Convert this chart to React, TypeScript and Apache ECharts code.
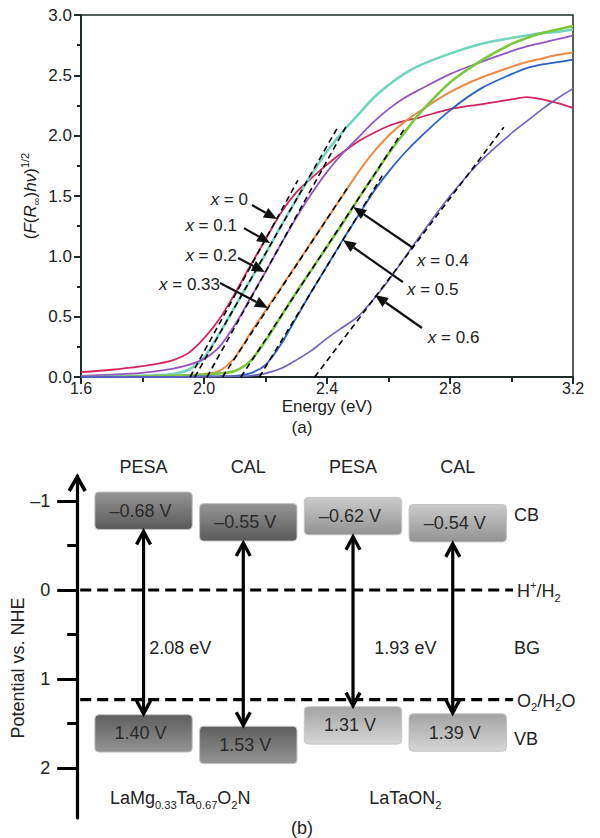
import React, { useEffect, useRef } from 'react';
import * as echarts from 'echarts';

const FONT = '"Liberation Sans", Arial, Helvetica, sans-serif';

// ---------- Panel (a): Kubelka–Munk plots ----------
const energy = [1.6, 1.7, 1.8, 1.85, 1.9, 1.95, 2.0, 2.05, 2.1, 2.15, 2.2, 2.25, 2.3, 2.35, 2.4, 2.45, 2.5, 2.55, 2.6, 2.65, 2.7, 2.8, 2.9, 3.0, 3.05, 3.1, 3.15, 3.2];

const kmX0 = [0.04, 0.06, 0.09, 0.11, 0.14, 0.2, 0.32, 0.48, 0.69, 0.92, 1.14, 1.36, 1.53, 1.65, 1.76, 1.86, 1.95, 2.02, 2.08, 2.12, 2.15, 2.22, 2.26, 2.3, 2.32, 2.3, 2.27, 2.23];
const kmX01 = [0.005, 0.008, 0.012, 0.015, 0.025, 0.06, 0.16, 0.36, 0.58, 0.8, 1.02, 1.25, 1.47, 1.68, 1.87, 2.03, 2.17, 2.31, 2.42, 2.51, 2.58, 2.68, 2.76, 2.81, 2.83, 2.85, 2.86, 2.88];
const kmX02 = [0.01, 0.02, 0.035, 0.05, 0.07, 0.1, 0.15, 0.25, 0.43, 0.65, 0.87, 1.1, 1.32, 1.52, 1.7, 1.85, 1.98, 2.11, 2.22, 2.31, 2.38, 2.51, 2.61, 2.7, 2.74, 2.77, 2.8, 2.83];
const kmX033 = [0, 0, 0.005, 0.005, 0.01, 0.015, 0.025, 0.05, 0.16, 0.36, 0.55, 0.74, 0.93, 1.12, 1.31, 1.5, 1.69, 1.86, 2.0, 2.11, 2.2, 2.36, 2.48, 2.57, 2.61, 2.64, 2.67, 2.69];
const kmX04 = [0, 0, 0.005, 0.008, 0.01, 0.015, 0.02, 0.03, 0.05, 0.13, 0.3, 0.5, 0.7, 0.89, 1.08, 1.27, 1.47, 1.66, 1.85, 2.02, 2.18, 2.44, 2.62, 2.76, 2.81, 2.85, 2.88, 2.91];
const kmX05 = [0, 0, 0, 0, 0, 0.003, 0.005, 0.007, 0.01, 0.03, 0.1, 0.27, 0.49, 0.71, 0.92, 1.13, 1.33, 1.53, 1.7, 1.85, 1.98, 2.21, 2.39, 2.51, 2.56, 2.59, 2.61, 2.63];
const kmX06 = [0, 0, 0, 0, 0, 0, 0.002, 0.004, 0.006, 0.01, 0.03, 0.07, 0.14, 0.22, 0.32, 0.41, 0.5, 0.64, 0.8, 0.98, 1.16, 1.5, 1.79, 2.02, 2.12, 2.22, 2.31, 2.39];

const compositions = ['0', '0.1', '0.2', '0.33', '0.4', '0.5', '0.6'];
const curves = [kmX0, kmX01, kmX02, kmX033, kmX04, kmX05, kmX06];
const curveColors = ['#d4245c', '#72d4bf', '#9457c2', '#f08848', '#7cc83c', '#2f5fc4', '#6a62c2'];
const curveWidths = [1.8, 2.6, 1.8, 2.0, 2.6, 1.8, 1.6];

// tangent (band-gap extrapolation) lines: [E, value] start and end
const tangents = [
  [[1.955, 0], [2.305, 1.63]],
  [[1.97, 0], [2.435, 2.07]],
  [[2.01, 0], [2.465, 2.09]],
  [[2.06, 0], [2.47, 1.58]],
  [[2.12, 0], [2.65, 2.05]],
  [[2.18, 0], [2.58, 1.67]],
  [[2.36, 0], [2.975, 2.07]],
];

// annotation label anchor, arrow start, arrow tip (data coordinates)
const annoText = [[2.143, 1.475], [2.107, 1.259], [2.107, 1.011], [2.052, 0.77], [2.693, 0.969], [2.66, 0.721], [2.728, 0.331]];
const annoFrom = [[2.156, 1.425], [2.13, 1.234], [2.111, 0.986], [2.052, 0.779], [2.68, 1.069], [2.647, 0.787], [2.709, 0.406]];
const annoTo = [[2.237, 1.309], [2.215, 1.11], [2.198, 0.87], [2.208, 0.572], [2.485, 1.408], [2.452, 1.135], [2.556, 0.679]];

// ---------- Panel (b): band positions ----------
const methods = ['PESA', 'CAL', 'PESA', 'CAL'];
const cbPotentials = [-0.68, -0.55, -0.62, -0.54];
const vbPotentials = [1.4, 1.53, 1.31, 1.39];
const redoxPotentials = [0, 1.23];
const redoxLabels = ['H{sup|+}/H{sub|2}', 'O{sub|2}/H{sub|2}O'];
const bandGaps = [2.08, 1.93];
const materials = ['LaMg{sub|0.33}Ta{sub|0.67}O{sub|2}N', 'LaTaON{sub|2}'];
const potentialTicks = [-1, 0, 1, 2];
const potentialMinorTicks = [-0.5, 0.5, 1.5];
const potentialMin = -1.28;
const potentialMax = 2.56;

const boxSpan = 0.42;
const axisOffsetB = 14;

const fmtV = (v: number) => (v < 0 ? '\u2013' + Math.abs(v).toFixed(2) : v.toFixed(2)) + ' V';

const zrRich = (size: number) => ({
  sub: { fontSize: size * 0.62, fontFamily: FONT, fill: '#222', verticalAlign: 'bottom', lineHeight: size * 0.62 },
  sup: { fontSize: size * 0.62, fontFamily: FONT, fill: '#222', verticalAlign: 'top', lineHeight: size * 0.62 },
  i: { fontSize: size, fontFamily: FONT, fill: '#222', fontStyle: 'italic' },
});

function buildOption() {
  const axisColor = '#1e2a2a';
  const series: any[] = [];

  curves.forEach((c, k) => {
    series.push({
      type: 'line',
      name: 'x = ' + compositions[k],
      xAxisIndex: 0,
      yAxisIndex: 0,
      data: energy.map((e, j) => [e, c[j]]),
      showSymbol: false,
      symbol: 'none',
      smooth: 0.3,
      lineStyle: { color: curveColors[k], width: curveWidths[k] },
      z: 2,
    });
  });

  tangents.forEach((t) => {
    series.push({
      type: 'line',
      xAxisIndex: 0,
      yAxisIndex: 0,
      data: t,
      symbol: 'none',
      lineStyle: { color: '#000', width: 1.6, type: [6, 4] },
      z: 3,
    });
  });

  series.push({
    type: 'custom',
    xAxisIndex: 0,
    yAxisIndex: 0,
    z: 5,
    data: annoText.map((d) => [d[0], d[1]]),
    renderItem: (params: any, api: any) => {
      const i = params.dataIndex;
      const t = api.coord(annoText[i]);
      const f = api.coord(annoFrom[i]);
      const p = api.coord(annoTo[i]);
      const dx = p[0] - f[0];
      const dy = p[1] - f[1];
      const L = Math.hypot(dx, dy);
      const ux = dx / L;
      const uy = dy / L;
      const hl = 13;
      const hw = 5.5;
      const bx = p[0] - ux * hl;
      const by = p[1] - uy * hl;
      return {
        type: 'group',
        children: [
          { type: 'line', shape: { x1: f[0], y1: f[1], x2: bx, y2: by }, style: { stroke: '#111', lineWidth: 2.2 } },
          {
            type: 'polygon',
            shape: { points: [[p[0], p[1]], [bx - uy * hw, by + ux * hw], [bx + uy * hw, by - ux * hw]] },
            style: { fill: '#111' },
          },
          {
            type: 'text',
            x: t[0],
            y: t[1],
            style: {
              text: '{i|x} = ' + compositions[i],
              rich: zrRich(17),
              fontSize: 17,
              fontFamily: FONT,
              fill: '#222',
              align: i < 4 ? 'right' : 'left',
              verticalAlign: 'middle',
            },
          },
        ],
      };
    },
  });

  // Panel (b) boxes + arrows
  series.push({
    type: 'custom',
    xAxisIndex: 1,
    yAxisIndex: 1,
    z: 4,
    data: cbPotentials.map((cb, i) => [i, cb, vbPotentials[i]]),
    encode: { x: 0, y: 1 },
    renderItem: (params: any, api: any) => {
      const i = params.dataIndex;
      const cb = api.value(1);
      const vb = api.value(2);
      const bw = api.size([1, 0])[0] * 0.93;
      const cx = api.coord([i, 0])[0];
      const cbTop = api.coord([i, cb - boxSpan])[1];
      const cbBot = api.coord([i, cb])[1];
      const vbTop = api.coord([i, vb])[1];
      const vbBot = api.coord([i, vb + boxSpan])[1];
      const lamg = i < 2;
      const cbCols = lamg ? ['#959595', '#5a5a5a'] : ['#cbcbcb', '#929292'];
      const vbCols = lamg ? ['#5f5f5f', '#939393'] : ['#a3a3a3', '#d6d6d6'];
      const box = (y0: number, y1: number, cols: string[], txt: string) => [
        {
          type: 'rect',
          shape: { x: cx - bw / 2, y: y0, width: bw, height: y1 - y0, r: 4 },
          style: {
            fill: new echarts.graphic.LinearGradient(0, 0, 0, 1, [
              { offset: 0, color: cols[0] },
              { offset: 1, color: cols[1] },
            ]),
            stroke: '#c4c4c4',
            lineWidth: 1,
          },
        },
        {
          type: 'text',
          x: cx - 3,
          y: (y0 + y1) / 2,
          style: { text: txt, fontSize: 18, fontFamily: FONT, fill: '#2b2b2b', align: 'center', verticalAlign: 'middle' },
        },
      ];
      const ax = cx - (i % 2 === 1 ? 5 : 0);
      const a1 = cbBot + 2;
      const a2 = vbTop - 1;
      const aw = 7;
      const ah = 13;
      return {
        type: 'group',
        children: [
          ...box(cbTop, cbBot, cbCols, fmtV(cb)),
          ...box(vbTop, vbBot, vbCols, fmtV(vb)),
          { type: 'line', shape: { x1: ax, y1: a1 + 1, x2: ax, y2: a2 - 1 }, style: { stroke: '#000', lineWidth: 3.2 } },
          {
            type: 'polyline',
            shape: { points: [[ax - aw, a1 + ah], [ax, a1], [ax + aw, a1 + ah]] },
            style: { stroke: '#000', lineWidth: 3.4, fill: 'none' },
          },
          {
            type: 'polyline',
            shape: { points: [[ax - aw, a2 - ah], [ax, a2], [ax + aw, a2 - ah]] },
            style: { stroke: '#000', lineWidth: 3.4, fill: 'none' },
          },
        ],
      };
    },
  });

  // redox levels
  series.push({
    type: 'custom',
    xAxisIndex: 1,
    yAxisIndex: 1,
    z: 3,
    data: redoxPotentials.map((v) => [0, v]),
    encode: { x: 0, y: 1 },
    renderItem: (params: any, api: any) => {
      const i = params.dataIndex;
      const y = api.coord([0, api.value(1)])[1];
      const cs = params.coordSys;
      const x1 = cs.x - 11;
      const x2 = cs.x + cs.width + 3;
      return {
        type: 'group',
        children: [
          { type: 'line', shape: { x1, y1: y, x2, y2: y }, style: { stroke: '#000', lineWidth: 3.2, lineDash: [11, 6] } },
          {
            type: 'text',
            x: x2 + 4,
            y: y + 1,
            style: {
              text: redoxLabels[i],
              rich: zrRich(18),
              fontSize: 18,
              lineHeight: 24,
              fontFamily: FONT,
              fill: '#222',
              align: 'left',
              verticalAlign: 'middle',
            },
          },
        ],
      };
    },
  });

  // band gap and material labels
  const labelFrac = [0.35, 0.5];
  series.push({
    type: 'custom',
    xAxisIndex: 1,
    yAxisIndex: 1,
    z: 3,
    data: bandGaps.map((g, k) => [k * 2, g]),
    encode: { x: 0, y: 1 },
    renderItem: (params: any, api: any) => {
      const k = params.dataIndex;
      const c0 = api.coord([k * 2, 0])[0];
      const c1 = api.coord([k * 2 + 1, 0])[0];
      const x = c0 + (c1 - c0) * labelFrac[k];
      const yGap = api.coord([0, 0.65])[1];
      const yMat = api.coord([0, 2.34])[1];
      return {
        type: 'group',
        children: [
          {
            type: 'text',
            x,
            y: yGap,
            style: { text: bandGaps[k].toFixed(2) + ' eV', fontSize: 18, fontFamily: FONT, fill: '#222', align: 'center', verticalAlign: 'middle' },
          },
          {
            type: 'text',
            x,
            y: yMat,
            style: {
              text: materials[k],
              rich: zrRich(18),
              fontSize: 18,
              lineHeight: 24,
              fontFamily: FONT,
              fill: '#222',
              align: 'center',
              verticalAlign: 'middle',
            },
          },
        ],
      };
    },
  });

  // axis arrow head for panel (b)
  series.push({
    type: 'custom',
    xAxisIndex: 1,
    yAxisIndex: 1,
    z: 6,
    data: [[0, potentialMin]],
    encode: { x: 0, y: 1 },
    renderItem: (params: any, api: any) => {
      const y = api.coord([0, api.value(1)])[1];
      const x = params.coordSys.x - axisOffsetB;
      return {
        type: 'polyline',
        shape: { points: [[x - 8, y + 15], [x, y + 1], [x + 8, y + 15]] },
        style: { stroke: '#000', lineWidth: 3.6, fill: 'none' },
      };
    },
  });

  return {
    animation: false,
    backgroundColor: '#ffffff',
    textStyle: { fontFamily: FONT },
    grid: [
      { left: 81, right: 27, top: 15, bottom: 461, show: true, borderColor: axisColor, borderWidth: 1.5, backgroundColor: 'rgba(0,0,0,0)' },
      { left: 91.2, right: 89.9, top: 476, bottom: 20 },
    ],
    xAxis: [
      {
        gridIndex: 0,
        type: 'value',
        min: 1.6,
        max: 3.2,
        interval: 0.4,
        axisLine: { show: true, onZero: false, lineStyle: { color: axisColor, width: 2 } },
        axisTick: { show: true, inside: false, length: 7, lineStyle: { color: axisColor, width: 2 } },
        minorTick: { show: true, splitNumber: 2, length: 5, lineStyle: { color: axisColor, width: 2 } },
        splitLine: { show: false },
        minorSplitLine: { show: false },
        axisLabel: { fontSize: 16, color: '#222', margin: 3, lineHeight: 16, fontFamily: FONT, formatter: (v: number) => v.toFixed(1) },
        name: 'Energy (eV)',
        nameLocation: 'middle',
        nameGap: 21,
        nameMoveOverlap: false,
        nameTextStyle: { fontSize: 17, color: '#222', fontFamily: FONT, lineHeight: 17 },
      },
      {
        gridIndex: 1,
        type: 'category',
        data: methods,
        position: 'top',
        boundaryGap: true,
        axisLine: { show: false },
        axisTick: { show: false },
        splitLine: { show: false },
        axisLabel: { fontSize: 18, color: '#222', margin: 0, fontFamily: FONT },
      },
    ],
    yAxis: [
      {
        gridIndex: 0,
        type: 'value',
        min: 0,
        max: 3,
        interval: 0.5,
        axisLine: { show: true, onZero: false, lineStyle: { color: axisColor, width: 2 } },
        axisTick: { show: true, inside: false, length: 7, lineStyle: { color: axisColor, width: 2 } },
        minorTick: { show: true, splitNumber: 2, length: 4, lineStyle: { color: axisColor, width: 2 } },
        splitLine: { show: false },
        minorSplitLine: { show: false },
        axisLabel: { fontSize: 17, color: '#222', margin: 9, fontFamily: FONT, formatter: (v: number) => v.toFixed(1) },
        name: '({i|F}({i|R}{sub|\u221e}){i|h\u03bd}){sup|1/2}',
        nameLocation: 'middle',
        nameRotate: 90,
        nameGap: 40,
        nameMoveOverlap: false,
        nameTextStyle: {
          fontSize: 17,
          color: '#222',
          fontFamily: FONT,
          lineHeight: 22,
          rich: {
            i: { fontSize: 17, fontStyle: 'italic', color: '#222', fontFamily: FONT },
            sub: { fontSize: 11, color: '#222', fontFamily: FONT, verticalAlign: 'bottom', lineHeight: 11 },
            sup: { fontSize: 11, color: '#222', fontFamily: FONT, verticalAlign: 'top', lineHeight: 11 },
          },
        },
      },
      {
        gridIndex: 1,
        type: 'value',
        position: 'left',
        inverse: true,
        min: potentialMin,
        max: potentialMax,
        offset: axisOffsetB,
        axisLine: { show: true, onZero: false, lineStyle: { color: '#000', width: 3.2 } },
        axisTick: { show: true, inside: false, length: 20, customValues: potentialTicks, lineStyle: { color: '#000', width: 3 } },
        splitLine: { show: false },
        axisLabel: {
          show: true,
          customValues: potentialTicks,
          fontSize: 18,
          color: '#222',
          margin: 27,
          fontFamily: FONT,
          formatter: (v: number) => (v < 0 ? '\u2013' + Math.abs(v) : String(v)),
        },
      },
      {
        gridIndex: 1,
        type: 'value',
        position: 'left',
        inverse: true,
        min: potentialMin,
        max: potentialMax,
        offset: axisOffsetB,
        axisLine: { show: false },
        axisTick: { show: true, inside: false, length: 10, customValues: potentialMinorTicks, lineStyle: { color: '#000', width: 3 } },
        splitLine: { show: false },
        axisLabel: { show: false },
      },
    ],
    graphic: [
      { type: 'text', x: 302, y: 427, style: { text: '(a)', fontSize: 17, fontFamily: FONT, fill: '#222', align: 'center', verticalAlign: 'middle' } },
      { type: 'text', x: 302, y: 828, style: { text: '(b)', fontSize: 18, fontFamily: FONT, fill: '#222', align: 'center', verticalAlign: 'middle' } },
      { type: 'text', x: 514, y: 515, style: { text: 'CB', fontSize: 18, fontFamily: FONT, fill: '#222', align: 'left', verticalAlign: 'middle' } },
      { type: 'text', x: 514, y: 648, style: { text: 'BG', fontSize: 18, fontFamily: FONT, fill: '#222', align: 'left', verticalAlign: 'middle' } },
      { type: 'text', x: 514, y: 739, style: { text: 'VB', fontSize: 18, fontFamily: FONT, fill: '#222', align: 'left', verticalAlign: 'middle' } },
      {
        type: 'text',
        x: 18,
        y: 668,
        rotation: Math.PI / 2,
        style: { text: 'Potential vs. NHE', fontSize: 18, fontFamily: FONT, fill: '#222', align: 'center', verticalAlign: 'middle' },
      },
    ],
    series,
  };
}

export default function App() {
  const ref = useRef<HTMLDivElement>(null);
  useEffect(() => {
    document.body.style.margin = '0';
    const chart = echarts.init(ref.current as HTMLDivElement, undefined, { renderer: 'svg' });
    chart.setOption(buildOption() as any);
    return () => chart.dispose();
  }, []);
  return <div ref={ref} style={{ width: 600, height: 838, position: 'absolute', left: 0, top: 0, background: '#fff' }} />;
}
